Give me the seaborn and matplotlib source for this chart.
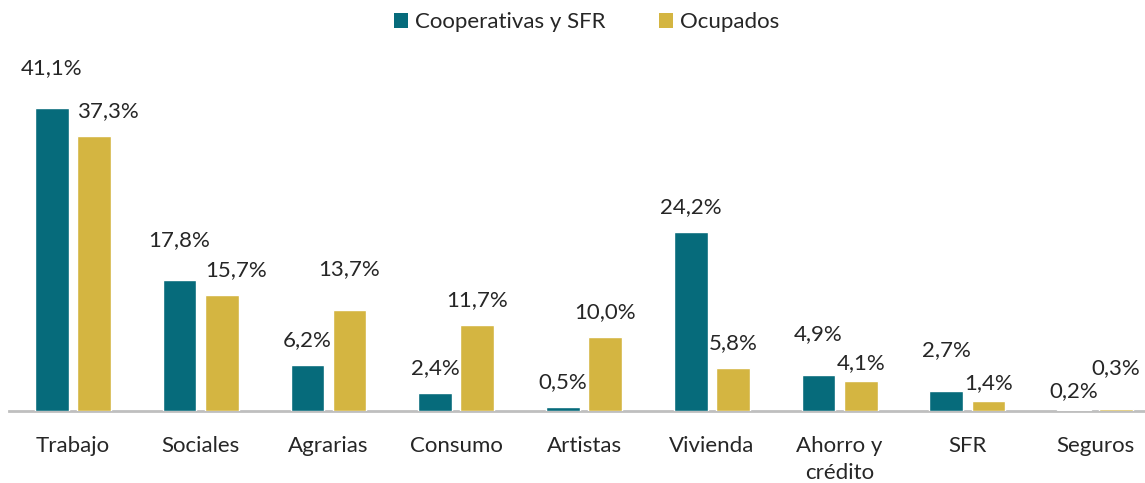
import matplotlib
matplotlib.use("Agg")
import matplotlib.pyplot as plt
import seaborn as sns
import pandas as pd
from matplotlib.patches import Patch

categories = ["Trabajo", "Sociales", "Agrarias", "Consumo", "Artistas",
              "Vivienda", "Ahorro y\ncrédito", "SFR", "Seguros"]
coop_sfr = [41.1, 17.8, 6.2, 2.4, 0.5, 24.2, 4.9, 2.7, 0.2]
ocupados = [37.3, 15.7, 13.7, 11.7, 10.0, 5.8, 4.1, 1.4, 0.3]
series_names = ["Cooperativas y SFR", "Ocupados"]

TEAL = "#066B7B"
GOLD = "#D4B541"
TEXT = "#262626"

sns.set_theme(style="white")
plt.rcParams["font.family"] = ["Lato", "DejaVu Sans"]

df = pd.DataFrame({
    "cat": categories * 2,
    "val": coop_sfr + ocupados,
    "serie": [series_names[0]] * len(categories) + [series_names[1]] * len(categories),
})

fig = plt.figure(figsize=(11.45, 4.83), dpi=100)
ax = fig.add_axes([9 / 1145, 72 / 483, 1 - 9 / 1145, 369 / 483])

sns.barplot(data=df, x="cat", y="val", hue="serie", order=categories,
            hue_order=series_names, palette=[TEAL, GOLD], width=0.66, gap=0.2,
            errorbar=None, legend=False, ax=ax, saturation=1, zorder=3)

ax.set_xlim(-0.5, 8.39)
ax.set_ylim(0, 50)
ax.set_xlabel("")
ax.set_ylabel("")
ax.set_yticks([])
for s in ["top", "right", "left"]:
    ax.spines[s].set_visible(False)
ax.spines["bottom"].set_color("#BFBFBF")
ax.spines["bottom"].set_linewidth(2)
ax.spines["bottom"].set_zorder(1)
ax.tick_params(axis="x", length=0, pad=18, labelsize=16, labelcolor=TEXT)
for lbl in ax.get_xticklabels():
    lbl.set_linespacing(1.45)

# value labels
teal_bars = ax.containers[0]
gold_bars = ax.containers[1]
for i in range(len(categories)):
    a, b = coop_sfr[i], ocupados[i]
    off_a, off_b = 25, 25
    dx_b = 0
    diff = abs(a - b)
    if diff < 2:
        if a >= b:
            off_a, off_b = 41, 18
        else:
            off_a, off_b = 18, 41
    elif diff < 8:
        if a >= b:
            off_a = 40
            dx_b = 14
        else:
            off_b = 41
    for bar, v, off, dx in ((teal_bars[i], a, off_a, 0), (gold_bars[i], b, off_b, dx_b)):
        x = bar.get_x() + bar.get_width() / 2
        ax.annotate(f"{v:.1f}%".replace(".", ","), (x, v), xytext=(dx, off),
                    textcoords="offset pixels", ha="center", va="center",
                    fontsize=16, color=TEXT)

handles = [Patch(facecolor=TEAL, edgecolor="none"), Patch(facecolor=GOLD, edgecolor="none")]
fig.legend(handles, series_names, loc="center", bbox_to_anchor=(0.5 + 14 / 1145, 1 - 22 / 483),
           ncol=2, frameon=False, fontsize=16, handlelength=0.65, handleheight=0.65,
           handletextpad=0.3, columnspacing=2.4, labelcolor=TEXT)

fig.savefig("out.png", dpi=100)
